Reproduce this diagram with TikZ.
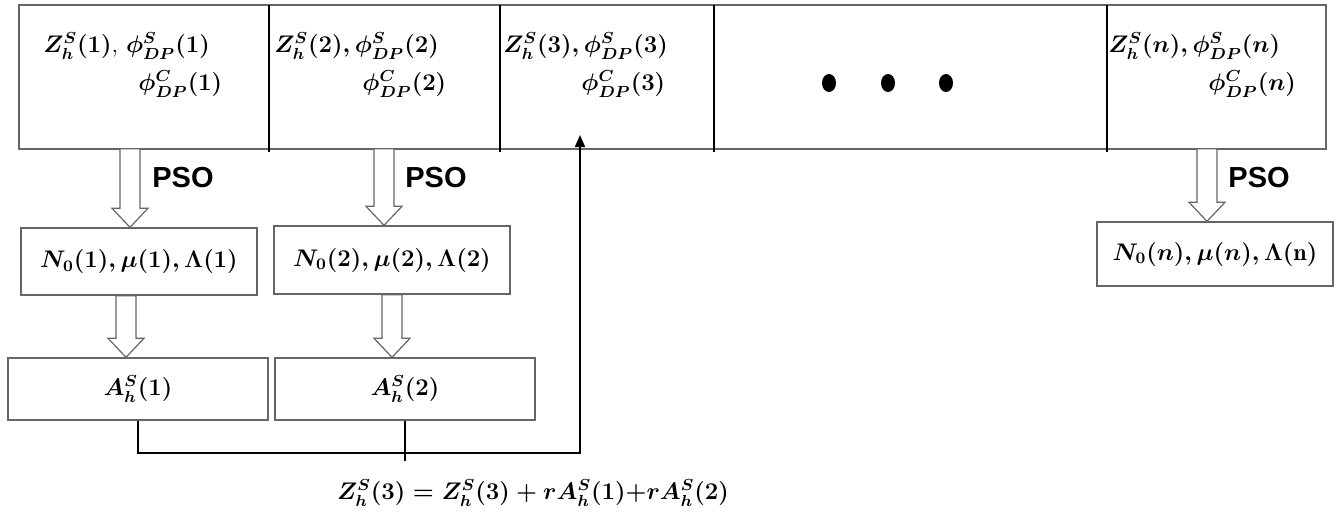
\documentclass[tikz,border=0pt]{standalone}
\usepackage{amsmath}
\usepackage{fontspec}
\newfontfamily\arialfont{Liberation Sans}
\usetikzlibrary{calc,arrows.meta}
\begin{document}
\begin{tikzpicture}[x=0.5pt,y=-0.5pt,
  mathtxt/.style={inner sep=0pt, font=\fontsize{12}{14}\selectfont\boldmath},
  cell/.style={draw=none, inner sep=0pt, anchor=north west, minimum height=71.5pt},
  box/.style={draw=black!60, line width=0.7pt, inner sep=0pt, font=\fontsize{12}{14}\selectfont\boldmath},
  divider/.style={line width=1pt, black},
  outline/.style={draw=black!60, line width=0.7pt},
  pso/.style={font=\arialfont\bfseries\fontsize{14.5}{17}\selectfont, inner sep=0pt, anchor=west},
  hollow/.style={draw=black!60, fill=white, line width=0.6pt, line join=miter,
    to path={let \p1=(\tikztostart), \p2=(\tikztotarget) in
      (\x1-5pt,\y1) -- (\x1+5pt,\y1) -- (\x1+5pt,\y2+9.5pt) -- (\x1+9pt,\y2+9.5pt)
      -- (\x1,\y2) -- (\x1-9pt,\y2+9.5pt) -- (\x1-5pt,\y2+9.5pt) -- cycle}},
  conn/.style={line width=1pt, black},
  dotmark/.style={fill=black}
]
\useasboundingbox (0,0) rectangle (1342,530);

% top cells
\node[cell, minimum width=124.5pt] (c1) at (19,5) {};
\node[cell, minimum width=115.5pt] (c2) at (268,5) {};
\node[cell, minimum width=107pt] (c3) at (499,5) {};
\node[cell, minimum width=196.5pt] (c4) at (713,5) {};
\node[cell, minimum width=109.5pt] (c5) at (1106,5) {};
\draw[outline] (c1.north west) rectangle (c5.south east);
\foreach \c in {c1,c2,c3,c4}
  \draw[divider] (\c.north east) -- ([yshift=-1.5pt]\c.south east);

% texts in the cells
\node[mathtxt, anchor=base west] (t1a) at (43,52) {$Z_h^S(1)$, $\phi_{DP}^S(1)$};
\node[mathtxt, anchor=base west] (t1b) at (138,90) {$\phi_{DP}^C(1)$};
\node[mathtxt, anchor=base west] (t2a) at (274,52) {$Z_h^S(2),\phi_{DP}^S(2)$};
\node[mathtxt, anchor=base west] (t2b) at (362,90) {$\phi_{DP}^C(2)$};
\node[mathtxt, anchor=base west] (t3a) at (503,52) {$Z_h^S(3),\phi_{DP}^S(3)$};
\node[mathtxt, anchor=base west] (t3b) at (581,90) {$\phi_{DP}^C(3)$};
\node[mathtxt, anchor=base west] (t5a) at (1108,52) {$Z_h^S(n),\phi_{DP}^S(n)$};
\node[mathtxt, anchor=base west] (t5b) at (1208,90) {$\phi_{DP}^C(n)$};

% dots
\fill[dotmark] (829,83) ellipse [x radius=3.5pt, y radius=4.5pt];
\fill[dotmark] (888,83) ellipse [x radius=3.5pt, y radius=4.5pt];
\fill[dotmark] (946,83) ellipse [x radius=3.5pt, y radius=4.5pt];

% parameter boxes
\node[box, minimum width=118pt, minimum height=33.5pt] (n1) at (139,261.5) {$N_0(1),\mu(1),\Lambda(1)$};
\node[box, minimum width=118pt, minimum height=34pt] (n2) at (392,260) {$N_0(2),\mu(2),\Lambda(2)$};
\node[box, minimum width=118pt, minimum height=32pt] (nn) at (1215,254) {$N_0(n),\mu(n),\Lambda(\mathrm{n})$};

% A boxes
\node[box, minimum width=130pt, minimum height=31pt] (a1) at (138,389) {$A_h^S(1)$};
\node[box, minimum width=130pt, minimum height=31pt] (a2) at (405,389) {$A_h^S(2)$};

% PSO labels
\node[pso] (p1) at (152,178) {PSO};
\node[pso] (p2) at (405,178) {PSO};
\node[pso] (pn) at (1228,178) {PSO};

% hollow arrows
\coordinate (x1) at (130,0);
\coordinate (x2) at (384,0);
\coordinate (xn) at (1207,0);
\coordinate (x3) at (126,0);
\coordinate (x4) at (392,0);
\draw[hollow] (c1.south -| x1) to (n1.north -| x1);
\draw[hollow] (c2.south -| x2) to (n2.north -| x2);
\draw[hollow] (c5.south -| xn) to (nn.north -| xn);
\draw[hollow] (n1.south -| x3) to (a1.north -| x3);
\draw[hollow] (n2.south -| x4) to (a2.north -| x4);

% feedback connector
\coordinate (jn) at (580,453);
\coordinate (tip) at (580,135);
\coordinate (a2e) at (0,461);
\draw[conn, -{Triangle[length=6pt, width=5pt]}] (a1.south) |- (jn) -- (tip);
\draw[conn] (a2.south) -- (a2.south |- a2e);

% update formula
\node[mathtxt] (f) at (533,493)
  {$Z_h^S(3) = Z_h^S(3) + rA_h^S(1){+}rA_h^S(2)$};
\end{tikzpicture}
\end{document}
